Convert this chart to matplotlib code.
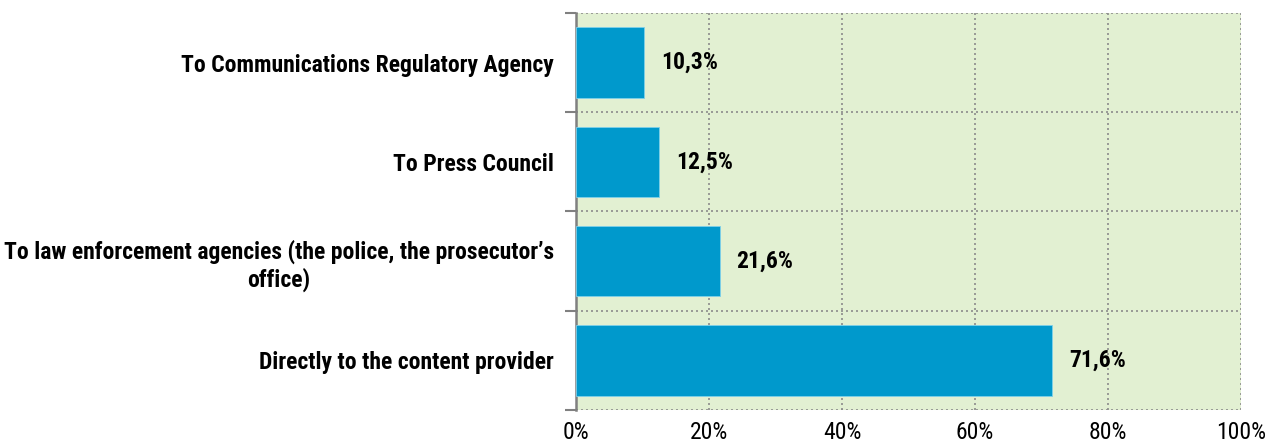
import matplotlib.pyplot as plt
from matplotlib import font_manager as fm
import numpy as np

categories = [
    "Directly to the content provider",
    "To law enforcement agencies (the police, the prosecutor\u2019s\noffice)",
    "To Press Council",
    "To Communications Regulatory Agency",
]
values = [71.6, 21.6, 12.5, 10.3]
value_labels = ["71,6%", "21,6%", "12,5%", "10,3%"]
xticks = [0, 20, 40, 60, 80, 100]
xtick_labels = ["0%", "20%", "40%", "60%", "80%", "100%"]

# narrow sans family with a real bold face
names = {f.name for f in fm.fontManager.ttflist}
narrow = "Roboto Condensed" if "Roboto Condensed" in names else "Liberation Sans"

fig = plt.figure(figsize=(12.67, 4.48), dpi=100)
ax = fig.add_axes([576 / 1267, 1 - 410 / 448, (1241 - 576) / 1267, (410 - 13) / 448])
ax.set_facecolor("#E2F0D2")

y = np.arange(len(categories))
ax.barh(y, values, height=0.71, color="#0099CC", edgecolor="#7FD0EA", linewidth=0.6, zorder=3)

for yi, v, lab in zip(y, values, value_labels):
    ax.text(v + 2.5, yi, lab, va="center", ha="left", fontsize=17,
            fontweight="bold", family=narrow, zorder=4)

ax.set_xlim(0, 100)
ax.set_ylim(-0.5, len(categories) - 0.5)

ax.set_xticks(xticks)
ax.set_xticklabels(xtick_labels, fontsize=17, family=narrow)
ax.tick_params(axis="x", length=0, pad=8)

# category boundaries as major ticks, labels as minor ticks at bar centres
ax.set_yticks(np.arange(-0.5, len(categories), 1.0))
ax.set_yticklabels([])
ax.tick_params(axis="y", which="major", length=8, width=1.5, color="#808080", direction="out")
ax.set_yticks(y, minor=True)
ax.set_yticklabels(categories, minor=True, fontsize=17, fontweight="bold",
                   family=narrow, multialignment="center")
ax.tick_params(axis="y", which="minor", length=0, pad=16)

ax.grid(True, which="major", axis="both", color="#8C8C8C", linestyle=(0, (1.2, 1.8)),
        linewidth=1.2, zorder=1)
ax.set_axisbelow(True)

for side in ["top", "right", "bottom"]:
    ax.spines[side].set_visible(False)
ax.spines["left"].set_color("#808080")
ax.spines["left"].set_linewidth(1.8)

fig.savefig("out.png", dpi=100)
